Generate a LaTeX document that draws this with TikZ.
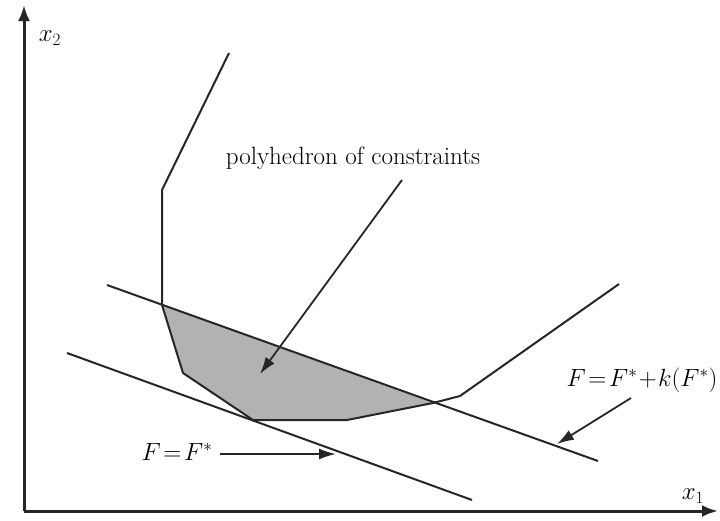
\documentclass[tikz,border=0pt]{standalone}
\usetikzlibrary{arrows.meta}
\begin{document}
\begin{tikzpicture}[x=1pt,y=-1pt,
  ln/.style={line width=2pt, black!85},
  ax/.style={line width=3pt, black!85, -{Latex[length=16pt,width=12pt]}},
  ptr/.style={line width=1.8pt, black!85, -{Latex[length=17pt,width=11pt]}},
  lbl/.style={font=\fontsize{25}{30}\selectfont, inner sep=0pt}]
\useasboundingbox (0,0) rectangle (720,520);
% shaded region
\fill[black!30] (162,305) -- (183,373) -- (253,420) -- (347,420) -- (433,403) -- cycle;
% axes
\coordinate (O) at (24,511);
\coordinate (ytop) at (24,5);
\coordinate (xend) at (718,511);
\draw[ax] (O) -- (ytop);
\draw[ax] (O) -- (xend);
\node[lbl] (x2) at (50,38) {$x_2$};
\node[lbl] (x1) at (693,496) {$x_1$};
% constraint boundary
\draw[ln, line join=round] (229,53) -- (162,190) -- (162,305) -- (183,373) -- (253,420) -- (347,420) -- (433,403) -- (460,396) -- (619,284);
% objective lines
\coordinate (u1) at (107,285);
\coordinate (u2) at (598,461);
\coordinate (l1) at (67,353);
\coordinate (l2) at (472,500);
\draw[ln] (u1) -- (u2);
\draw[ln] (l1) -- (l2);
% labels
\node[lbl] (poly) at (353,158) {polyhedron of constraints};
\coordinate (polyS) at (402,180);
\coordinate (polyE) at (260,374);
\draw[ptr] (polyS) -- (polyE);
\node[lbl] (Fk) at (642,380) {$F\!=\!F^{*}\!+\!k(F^{*})$};
\coordinate (FkS) at (631,398);
\coordinate (FkE) at (557,444);
\draw[ptr] (FkS) -- (FkE);
\node[lbl] (F) at (177,452) {$F\!=\!F^{*}$};
\coordinate (FS) at (220,454);
\coordinate (FE) at (336,454);
\draw[ptr] (FS) -- (FE);
\end{tikzpicture}
\end{document}
